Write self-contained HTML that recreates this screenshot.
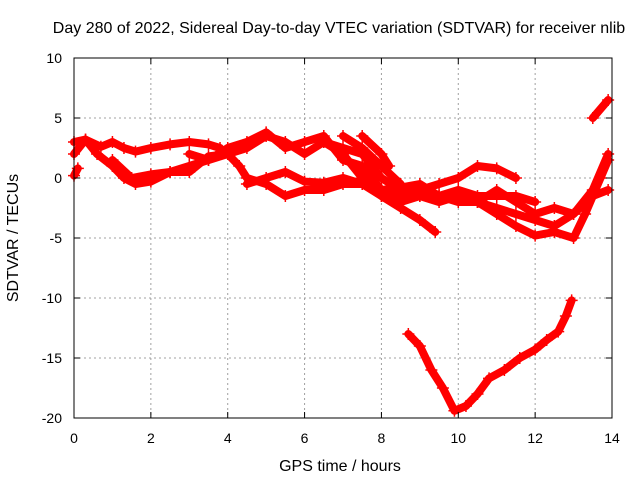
<!DOCTYPE html>
<html><head><meta charset="utf-8"><style>
body{margin:0;background:#fff}
svg text{font-family:"Liberation Sans",sans-serif;font-size:14px;fill:#000}
svg text.big{font-size:16px}
</style></head><body>
<svg id="chart" width="640" height="480" xmlns="http://www.w3.org/2000/svg">
<text class="big" x="339" y="33" text-anchor="middle">Day 280 of 2022, Sidereal Day-to-day VTEC variation (SDTVAR) for receiver nlib</text>
<text class="big" x="340" y="471" text-anchor="middle">GPS time / hours</text>
<text class="big" transform="translate(18,238) rotate(-90)" text-anchor="middle">SDTVAR / TECUs</text>
<g id="grid"></g>
<g id="series"></g>
<rect x="74" y="58" width="538" height="360" fill="none" stroke="#000" stroke-width="1"/>
<g id="ticks"></g>
</svg>
<script>
const xTicks=[0,2,4,6,8,10,12,14];
const yTicks=[10,5,0,-5,-10,-15,-20];
const track1=[[0,2],[0.3,3.2],[0.7,2.6],[1,3],[1.3,2.5],[1.6,2.2],[2,2.5],[2.5,2.8],[3,3],[3.5,2.8],[3.8,2.5]];
const track2=[[0,3],[0.3,3.2],[0.6,2],[1,1],[1.3,0],[1.6,-0.5],[2,-0.3],[2.5,0.5],[3,1],[3.5,1.5],[4,2],[4.5,2.5],[5,3.5],[5.5,3],[6,2],[6.5,3],[7,2.5],[7.5,2],[8,0],[8.5,-1],[9,-1.5],[9.5,-2],[10,-1.5],[10.5,-2],[11,-1],[11.5,-2],[12,-3],[12.5,-2.5],[13,-3],[13.5,-1],[13.9,2]];
const track3=[[1,1.5],[1.5,0],[2,0.3],[2.5,0.5],[3,0.5],[3.5,1.8],[4,2],[4.3,1],[4.5,0],[5,-0.5],[5.5,-1.5],[6,-1],[6.5,-1],[7,-0.5],[7.5,-0.5],[8,-1.5],[8.5,-1.5],[9,-1],[9.5,-0.5],[10,0],[10.5,1],[11,0.8],[11.5,0]];
const track4=[[4.5,-0.5],[5,0],[5.5,0.5],[6,-0.3],[6.5,-0.4],[7,0],[7.5,-0.5],[8,-1],[8.5,-0.8],[9,-0.5],[9.5,-1.5],[10,-2],[10.5,-2],[11,-2.5],[11.5,-3],[12,-3.5],[12.5,-4],[13,-3],[13.5,-1.5],[13.9,-1]];
const track5=[[6.5,3],[7,2],[7.5,0],[8,-1.5],[8.5,-2.5],[9,-3.5],[9.4,-4.5]];
const track6=[[7,3.5],[7.5,2.5],[8,1],[8.5,-0.5]];
const track7=[[7.5,3.5],[8,2],[8.2,1]];
const track8=[[10.5,-2],[11,-3],[11.5,-4],[12,-4.8],[12.5,-4.5],[13,-5],[13.3,-3],[13.7,0],[13.9,1.5]];
const track9=[[13.5,5],[13.9,6.5]];
const track10=[[8.7,-13],[9,-14],[9.3,-16],[9.6,-17.5],[9.9,-19.4],[10.2,-19],[10.5,-18],[10.8,-16.7],[11.2,-16],[11.6,-15],[12,-14.3],[12.3,-13.5],[12.6,-12.8],[12.8,-11.5],[12.95,-10.2]];
const track11=[[0,0.2],[0.1,0.8]];
const track12=[[3,2],[3.5,1.5],[4,2.5],[4.5,3],[5,3.8],[5.5,2.5],[6,3],[6.5,3.5],[7,1.5],[7.5,1],[8,-1],[8.5,-2],[9,-1.5],[9.5,-1.5],[10,-1],[10.5,-1.5],[11,-1.5],[11.5,-1.5],[12,-2]];
const tracks=[track1,track2,track3,track4,track5,track6,track7,track8,track9,track10,track11,track12];
const NS="http://www.w3.org/2000/svg";
const X0=74,X1=612,Y0=418,Y1=58;
function sx(h){return X0+(h-0)/(14-0)*(X1-X0);}
function sy(v){return Y0-(v+20)/30*(Y0-Y1);}
const grid=document.getElementById('grid'),ticks=document.getElementById('ticks'),ser=document.getElementById('series');
function mk(tag,attrs,parent){const e=document.createElementNS(NS,tag);for(const k in attrs)e.setAttribute(k,attrs[k]);parent.appendChild(e);return e;}
xTicks.forEach(t=>{
  const x=sx(t);
  if(t>0&&t<14){const g=mk('line',{x1:x,x2:x,y1:Y1,y2:Y0,stroke:'#a0a0a0','stroke-dasharray':'2,3'},grid);
  
  }
  mk('line',{x1:x,x2:x,y1:Y0,y2:Y0-6,stroke:'#000'},ticks);
  mk('line',{x1:x,x2:x,y1:Y1,y2:Y1+6,stroke:'#000'},ticks);
  const l=mk('text',{x:x,y:443,'text-anchor':'middle'},ticks);l.textContent=t;
  
  
});
yTicks.forEach(t=>{
  const y=sy(t);
  if(t>-20&&t<10){const g=mk('line',{x1:X0,x2:X1,y1:y,y2:y,stroke:'#a0a0a0','stroke-dasharray':'2,3'},grid);
  
  }
  mk('line',{x1:X0,x2:X0+6,y1:y,y2:y,stroke:'#000'},ticks);
  mk('line',{x1:X1,x2:X1-6,y1:y,y2:y,stroke:'#000'},ticks);
  const l=mk('text',{x:62,y:y+5,'text-anchor':'end'},ticks);l.textContent=t;
  
  
});
tracks.forEach((tr,i)=>{
  const p=mk('polyline',{points:tr.map(d=>sx(d[0])+','+sy(d[1])).join(' '),fill:'none',stroke:'#f00','stroke-width':8,'stroke-linejoin':'round','stroke-linecap':'round'},ser);
  
  
  tr.forEach(d=>{
    const x=sx(d[0]),y=sy(d[1]);
    const m=mk('path',{d:`M${x-6},${y}H${x+6}M${x},${y-6}V${y+6}`,stroke:'#f00','stroke-width':1.5},ser);
    
    
  });
});
</script>
</body></html>
